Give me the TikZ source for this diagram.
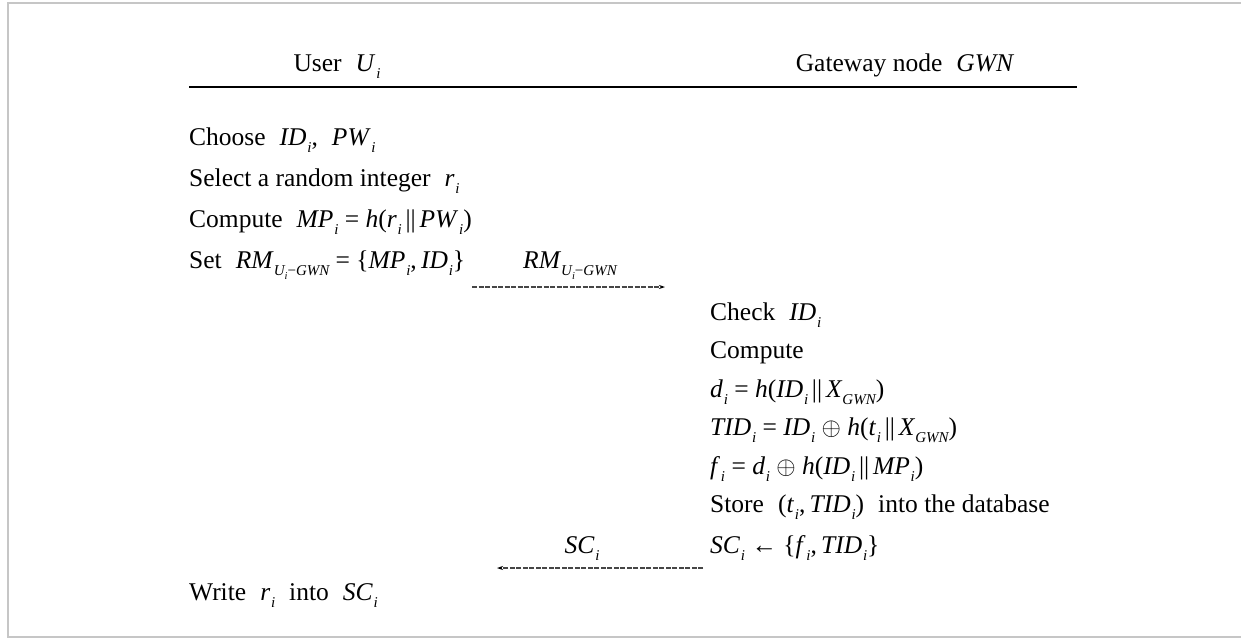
\documentclass[tikz,border=0pt]{standalone}
\usepackage{fontspec}
\setmainfont{Liberation Serif}
\usetikzlibrary{arrows.meta}
% subscripts set small and low, as in the protocol figure style
\newcommand\lo[1]{\raisebox{-0.3em}{\fontsize{15}{15}\selectfont\itshape #1}}
\newcommand\llo[1]{\raisebox{-0.25em}{\fontsize{10.5}{10.5}\selectfont\itshape #1}}
\newcommand\vi[2]{\textit{#1}\kern0.03em\lo{#2}}
\newcommand\gap{\hspace{0.55em}}
\newcommand\cc{\hspace{0.15em}||\hspace{0.15em}}
\tikzset{
  txt/.style={anchor=base west, inner sep=0pt, font=\fontsize{25.5}{30}\selectfont},
  lbl/.style={anchor=base, inner sep=0pt, font=\fontsize{25.5}{30}\selectfont},
  msg/.style={draw=gray!55!black, line width=1.2pt, dash pattern=on 5pt off 1.5pt,
              -{Stealth[length=6pt,width=4pt,color=black]}},
  frame/.style={draw=gray!45, line width=1.5pt}
}
\begin{document}
\begin{tikzpicture}[x=1pt,y=-1pt]
\useasboundingbox (0,0) rectangle (1241,640);
% outer frame (open on the right)
\draw[frame] (1241,3) -- (8,3) -- (8,637) -- (1241,637);

% header
\node[lbl] (hu) at (337,71) {User\gap\vi{U}{i}};
\node[lbl] (hg) at (905,71) {Gateway node\gap\textit{GWN}};
\coordinate (hl) at (189,87);
\coordinate (hr) at (1077,87);
\draw[line width=2.4pt] (hl) -- (hr);

% user side
\node[txt] (u1) at (189,145) {Choose\gap\vi{ID}{i},\gap\vi{PW}{i}};
\node[txt] (u2) at (189,186) {Select a random integer\gap\vi{r}{i}};
\node[txt] (u3) at (189,227) {Compute\gap\vi{MP}{i} = \textit{h}(\vi{r}{i}\cc\vi{PW}{i})};
\node[txt] (u4) at (189,268) {Set\gap\textit{RM}\lo{U\llo{i}\upshape{−}\itshape GWN} = \{\vi{MP}{i},\,\vi{ID}{i}\}};
\node[txt] (u5) at (189,600) {Write\gap\vi{r}{i}\gap into\gap\vi{SC}{i}};

% gateway side
\node[txt] (g1) at (710,320) {Check\gap\vi{ID}{i}};
\node[txt] (g2) at (710,358) {Compute};
\node[txt] (g3) at (710,397) {\vi{d}{i} = \textit{h}(\vi{ID}{i}\cc\textit{X}\lo{GWN})};
\node[txt] (g4) at (710,435) {\vi{TID}{i} = \vi{ID}{i} $\oplus$ \textit{h}(\vi{t}{i}\cc\textit{X}\lo{GWN})};
\node[txt] (g5) at (710,474) {\vi{f}{i} = \vi{d}{i} $\oplus$ \textit{h}(\vi{ID}{i}\cc\vi{MP}{i})};
\node[txt] (g6) at (710,512) {Store\gap(\vi{t}{i},\,\vi{TID}{i})\gap into the database};
\node[txt] (g7) at (710,553) {\vi{SC}{i} ← \{\vi{f}{i},\,\vi{TID}{i}\}};

% messages
\coordinate (m1s) at (472,287);
\coordinate (m1e) at (665,287);
\draw[msg] (m1s) -- (m1e);
\node[lbl] (m1l) at (570,268) {\textit{RM}\lo{U\llo{i}\upshape{−}\itshape GWN}};

\coordinate (m2s) at (703,568);
\coordinate (m2e) at (497,568);
\draw[msg] (m2s) -- (m2e);
\node[lbl] (m2l) at (582,553) {\vi{SC}{i}};
\end{tikzpicture}
\end{document}
